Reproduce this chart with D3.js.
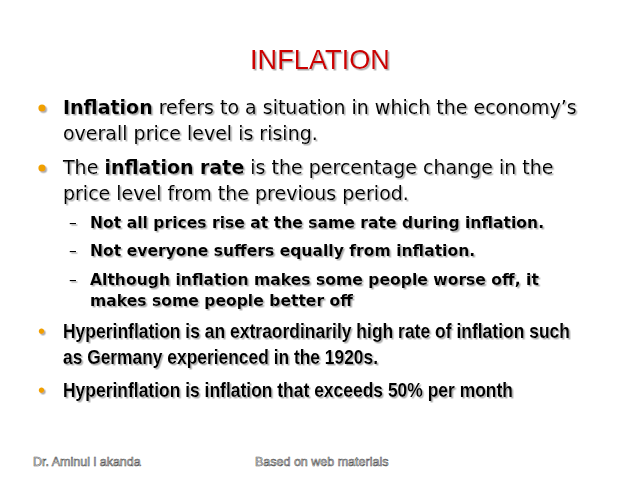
<!DOCTYPE html>
<html><head><meta charset="utf-8">
<script src="https://cdn.jsdelivr.net/npm/d3@7"></script>
<style>body{margin:0;background:#fff}</style>
</head><body>
<script>
const title = "INFLATION";
const mainBullets = [
  {y:[114,140], runs:[[{t:"Inflation",b:true},{t:" refers to a situation in which the economy’s"}],[{t:"overall price level is rising."}]]},
  {y:[174,200], runs:[[{t:"The "},{t:"inflation rate",b:true},{t:" is the percentage change in the"}],[{t:"price level from the previous period."}]]}
];
const subBullets = [
  {y:[228], lines:["Not all prices rise at the same rate during inflation."]},
  {y:[256], lines:["Not everyone suffers equally from inflation."]},
  {y:[285,306], lines:["Although inflation makes some people worse off, it","makes some people better off"]}
];
const narrowBullets = [
  {y:[338,364], lines:["Hyperinflation is an extraordinarily high rate of inflation such","as Germany experienced in the 1920s."], w:[507,315]},
  {y:[397], lines:["Hyperinflation is inflation that exceeds 50% per month"], w:[450]}
];
const footer = [{x:33,t:"Dr. Aminul l akanda"},{x:255,t:"Based on web materials"}];

const svg = d3.select("body").append("svg").attr("width",640).attr("height",480);
const defs = svg.append("defs");
const f = defs.append("filter").attr("id","sh").attr("x","-5%").attr("y","-20%").attr("width","110%").attr("height","150%");
f.append("feDropShadow").attr("dx",1.5).attr("dy",1.5).attr("stdDeviation",0.6).attr("flood-color","#999").attr("flood-opacity",0.8);
const g = svg.append("g").attr("filter","url(#sh)");

g.append("text").attr("x",250).attr("y",69)
 .attr("font-family","'Liberation Sans',Arial,sans-serif").attr("font-size",28)
 .attr("textLength",140).attr("lengthAdjust","spacingAndGlyphs")
 .attr("fill","#cc0000").text(title);

const verd = "'DejaVu Sans',Verdana,sans-serif";
mainBullets.forEach(b=>{
  g.append("circle").attr("cx",42).attr("cy",b.y[0]-6).attr("r",3.6).attr("fill","#f0a000");
  b.runs.forEach((line,i)=>{
    const t = g.append("text").attr("x",63).attr("y",b.y[i]).attr("font-family",verd).attr("font-size",19).attr("fill","#000");
    line.forEach(r=>t.append("tspan").attr("font-weight",r.b?"bold":"normal").text(r.t));
  });
});
subBullets.forEach(b=>{
  g.append("text").attr("x",69).attr("y",b.y[0]).attr("font-family",verd).attr("font-size",15.5).text("–");
  b.lines.forEach((l,i)=>g.append("text").attr("x",90).attr("y",b.y[i]).attr("font-family",verd)
    .attr("font-size",15.6).attr("font-weight","bold").text(l));
});
narrowBullets.forEach(b=>{
  g.append("text").attr("x",38).attr("y",b.y[0]).attr("font-family","Arial,sans-serif").attr("font-size",20).attr("fill","#f0a000").text("•");
  b.lines.forEach((l,i)=>g.append("text").attr("x",63).attr("y",b.y[i]).attr("font-family","'Liberation Sans',Arial,sans-serif")
    .attr("font-size",21).attr("font-weight","bold").attr("textLength",b.w[i]).attr("lengthAdjust","spacingAndGlyphs").text(l));
});
footer.forEach(d=>svg.append("text").attr("x",d.x).attr("y",466).attr("font-family","Arial,'Liberation Sans',sans-serif")
  .attr("font-size",12.5).attr("fill","#fff").attr("stroke","#555").attr("stroke-width",0.6).text(d.t));
</script>
</body></html>
